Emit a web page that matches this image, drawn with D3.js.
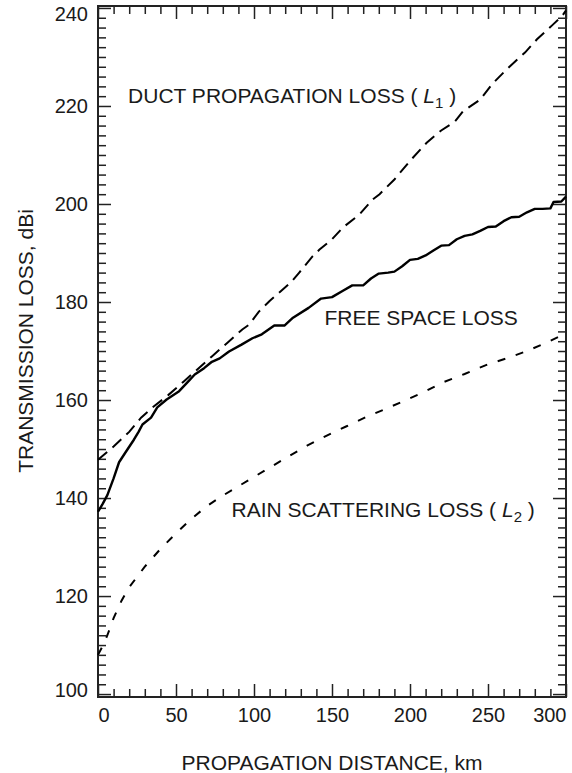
<!DOCTYPE html>
<html>
<head>
<meta charset="utf-8">
<script src="https://cdn.jsdelivr.net/npm/d3@7"></script>
<style>
  body { margin: 0; background: #fff; }
  text { font-family: "Liberation Sans", Arial, sans-serif; fill: #1a1a1a; }
</style>
</head>
<body>
<div id="chart"></div>
<script>
// values
var freeDist = [0, 3, 6, 10, 13.5, 18, 23, 26, 28.5, 34, 38, 44, 52, 58.5, 62, 68, 73, 78, 84, 92, 99, 105, 113, 119.5, 125, 135, 143, 150, 157, 163, 170, 175, 180, 186, 190, 195, 200, 205, 210, 215, 220, 225, 230, 235, 240, 245, 250, 255, 260, 265, 270, 275, 280, 285, 290, 292, 297, 300];
var freeLoss = [137.2, 138.8, 140.6, 144, 147.3, 149.5, 151.9, 153.5, 155, 156.4, 158.5, 160.1, 161.8, 164, 165.2, 166.5, 167.8, 168.5, 169.9, 171.3, 172.6, 173.4, 175.2, 175.2, 176.8, 178.8, 180.7, 181, 182.3, 183.4, 183.4, 184.8, 185.8, 186, 186.2, 187.3, 188.6, 188.8, 189.5, 190.5, 191.5, 191.6, 192.8, 193.5, 193.8, 194.5, 195.3, 195.4, 196.5, 197.3, 197.4, 198.3, 199, 199, 199.1, 200.4, 200.5, 201.5];

var ductDist = [0, 10, 20, 27.6, 35, 45, 55, 60, 73, 83, 92.5, 97, 103, 110, 124, 129, 137.5, 142, 150, 157, 167.7, 176, 180.5, 190, 200, 210.7, 220, 228.7, 234, 245, 252.5, 262, 273.7, 281.4, 291.6, 297.4, 300];
var ductLoss = [147.8, 150.5, 153.5, 156.4, 158.5, 161, 163.8, 165.2, 168.9, 171.7, 174.4, 175.4, 178, 180.2, 184.1, 186, 189.3, 190.7, 192.8, 195.2, 197.9, 200.9, 202, 205, 208.8, 212.5, 215, 216.8, 218.9, 221.3, 224.4, 227.5, 230.9, 233.6, 236.6, 238.3, 239.5];

var rainDist = [0, 3, 6, 10, 15, 20, 30, 40, 50, 60, 70, 80, 90, 100, 110, 122.7, 134, 147, 159, 171, 183.7, 195.3, 209.4, 221, 235, 250, 262, 275, 288, 300];
var rainLoss = [108, 109.8, 112, 115.5, 119, 121.8, 126, 129.6, 132.8, 135.8, 138.4, 140.5, 142.4, 144.3, 146.2, 148.6, 150.7, 152.8, 154.6, 156.4, 158.1, 159.7, 161.7, 163.6, 165.3, 167.3, 168.5, 170, 171.8, 173.6];

var xMajor = [0, 50, 100, 150, 200, 250, 300];
var yMajor = [100, 120, 140, 160, 180, 200, 220, 240];

var width = 572, height = 773;
var margin = {top: 6, right: 6, bottom: 76, left: 98};
var w = width - margin.left - margin.right;
var h = height - margin.top - margin.bottom;

var svg = d3.select("#chart").append("svg")
    .attr("width", width)
    .attr("height", height);
var g = svg.append("g")
    .attr("transform", "translate(" + margin.left + "," + margin.top + ")");

var x = d3.scaleLinear().domain([0, 300]).range([0, w]);
var y = d3.scaleLinear().domain([99.4, 240.4]).range([h, 0]);

var xMinor = d3.range(0, 301, 10).filter(function(v) { return v % 50 !== 0; });
var yMinor = d3.range(100, 241, 2).filter(function(v) { return v % 20 !== 0; });

function styleAxis(sel) {
  sel.select(".domain").remove();
  sel.selectAll("line").attr("stroke", "#222").attr("stroke-width", 1.5);
}

// minor ticks, all four sides, pointing inward
g.append("g").attr("transform", "translate(0," + h + ")")
  .call(d3.axisBottom(x).tickValues(xMinor).tickSize(-8).tickFormat(""))
  .call(styleAxis);
g.append("g")
  .call(d3.axisTop(x).tickValues(xMinor).tickSize(-8).tickFormat(""))
  .call(styleAxis);
g.append("g")
  .call(d3.axisLeft(y).tickValues(yMinor).tickSize(-8).tickFormat(""))
  .call(styleAxis);
g.append("g").attr("transform", "translate(" + w + ",0)")
  .call(d3.axisRight(y).tickValues(yMinor).tickSize(-8).tickFormat(""))
  .call(styleAxis);

// major ticks
var xAx = g.append("g").attr("transform", "translate(0," + h + ")")
  .call(d3.axisBottom(x).tickValues(xMajor).tickSize(-13).tickPadding(11).tickFormat(d3.format("d")))
  .call(styleAxis);
g.append("g")
  .call(d3.axisTop(x).tickValues(xMajor).tickSize(-13).tickFormat(""))
  .call(styleAxis);
var yAx = g.append("g")
  .call(d3.axisLeft(y).tickValues(yMajor).tickSize(-13).tickPadding(10).tickFormat(d3.format("d")))
  .call(styleAxis);
g.append("g").attr("transform", "translate(" + w + ",0)")
  .call(d3.axisRight(y).tickValues(yMajor).tickSize(-13).tickFormat(""))
  .call(styleAxis);

xAx.selectAll("text").style("font-size", "20px")
  .attr("text-anchor", function(d) { return d === 0 ? "start" : d === 300 ? "end" : "middle"; });
yAx.selectAll("text").style("font-size", "20px")
  .attr("dy", function(d) { return d === 240 ? "0.62em" : d === 100 ? "0.12em" : "0.34em"; });

// frame
g.append("rect")
  .attr("width", w).attr("height", h)
  .attr("fill", "none").attr("stroke", "#222").attr("stroke-width", 2);

var line = d3.line()
  .x(function(d) { return x(d[0]); })
  .y(function(d) { return y(d[1]); });

function pairs(a, b) { return a.map(function(v, i) { return [v, b[i]]; }); }

g.append("path").datum(pairs(rainDist, rainLoss))
  .attr("d", line).attr("fill", "none").attr("stroke", "#000")
  .attr("stroke-width", 2).attr("stroke-dasharray", "8,11");
g.append("path").datum(pairs(ductDist, ductLoss))
  .attr("d", line).attr("fill", "none").attr("stroke", "#000")
  .attr("stroke-width", 2).attr("stroke-dasharray", "12,7");
g.append("path").datum(pairs(freeDist, freeLoss))
  .attr("d", line).attr("fill", "none").attr("stroke", "#000")
  .attr("stroke-width", 2.4).attr("stroke-linejoin", "round");

// curve labels
function curveLabel(t, d, v, anchor, sub) {
  var el = g.append("text")
    .attr("x", x(d)).attr("y", y(v))
    .attr("text-anchor", anchor)
    .style("font-size", "21px");
  el.append("tspan").text(t);
  if (sub) {
    el.append("tspan").text("( ");
    el.append("tspan").style("font-style", "italic").text("L");
    el.append("tspan").attr("dy", 5).style("font-size", "15px").text(sub);
    el.append("tspan").attr("dy", -5).text(" )");
  }
}
curveLabel("DUCT PROPAGATION LOSS ", 19.3, 220.7, "start", "1");
curveLabel("FREE SPACE LOSS", 145.2, 175.4, "start");
curveLabel("RAIN SCATTERING LOSS ", 280, 136.2, "end", "2");

// axis titles
svg.append("text")
  .attr("x", margin.left + w / 2).attr("y", 770)
  .attr("text-anchor", "middle")
  .style("font-size", "21px")
  .text("PROPAGATION DISTANCE, km");
svg.append("text")
  .attr("transform", "translate(33," + 341 + ") rotate(-90)")
  .attr("text-anchor", "middle")
  .style("font-size", "21px")
  .text("TRANSMISSION LOSS, dBi");
</script>
</body>
</html>
